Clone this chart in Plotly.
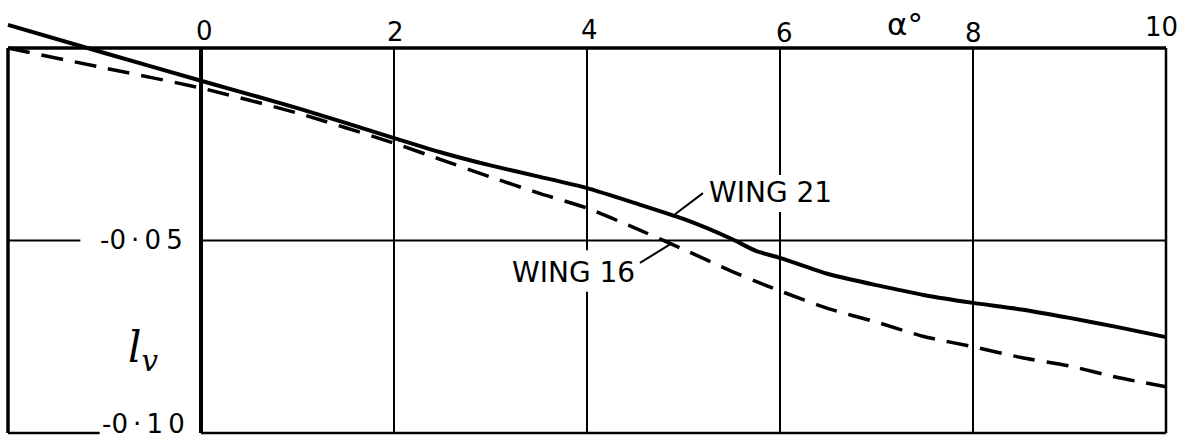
import plotly.graph_objects as go

# Angle of attack (degrees) and rolling-moment derivative l_v for two wings
alpha = [-2, -1, 0, 1, 2, 2.5, 3, 3.5, 4, 4.5, 5, 5.5, 5.75, 6, 6.5, 7, 7.5, 8, 8.5, 9, 9.5, 10]
lv_wing21 = [0.0060, -0.0013, -0.0085, -0.0156, -0.0234, -0.0272, -0.0305, -0.0334, -0.0364,
             -0.0403, -0.0444, -0.0496, -0.0527, -0.0545, -0.0587, -0.0616, -0.0642, -0.0662,
             -0.0679, -0.0701, -0.0725, -0.0751]
lv_wing16 = [0.0000, -0.0052, -0.0104, -0.0169, -0.0247, -0.0291, -0.0335, -0.0377, -0.0416,
             -0.0468, -0.0523, -0.0580, -0.0606, -0.0631, -0.0677, -0.0712, -0.0750, -0.0776,
             -0.0804, -0.0826, -0.0856, -0.0880]

x_ticks = [0, 2, 4, 6, 8, 10]
x_tick_text = ["0", "2", "4", "6", "8", "10"]
x_min, x_max = -2, 10
y_min, y_max = -0.10, 0.0

W, H = 1185, 438
INK = "#000000"
FONT = "DejaVu Sans"

fig = go.Figure()

fig.add_trace(go.Scatter(
    x=alpha, y=lv_wing21, mode="lines", name="WING 21",
    line=dict(color=INK, width=4, shape="spline", smoothing=0.6),
    hoverinfo="skip", cliponaxis=False,
))
fig.add_trace(go.Scatter(
    x=alpha, y=lv_wing16, mode="lines", name="WING 16",
    line=dict(color=INK, width=3.5, dash="22px,12px", shape="spline", smoothing=0.6),
    hoverinfo="skip", cliponaxis=False,
))

shapes = []


def seg(x0, y0, x1, y1, w):
    shapes.append(dict(type="line", xref="x", yref="y", x0=x0, y0=y0, x1=x1, y1=y1,
                       line=dict(color=INK, width=w), layer="below"))


# frame
seg(x_min, y_max, x_max, y_max, 3.5)
seg(x_min, y_min, x_min, y_max, 3.5)
seg(x_max, y_min, x_max, y_max, 2.5)
seg(x_min, y_min, -1.05, y_min, 2.5)
seg(0, y_min, x_max, y_min, 2.5)

# horizontal grid line at -0.05 (broken around its label)
seg(x_min, -0.05, -1.25, -0.05, 2)
seg(0, -0.05, x_max, -0.05, 2)

# vertical grid lines
seg(0, y_min, 0, y_max, 4)
seg(2, y_min, 2, y_max, 2)
seg(4, y_min, 4, -0.0633, 2)
seg(4, -0.0525, 4, y_max, 2)
seg(6, y_min, 6, -0.0426, 2)
seg(6, -0.0330, 6, y_max, 2)
seg(8, y_min, 8, y_max, 2)

# leader lines for the curve labels
seg(4.912, -0.0432, 5.202, -0.0377, 2)
seg(4.549, -0.0558, 4.881, -0.0507, 2)

annotations = []


def py(px):
    return 1 - px / H


tick_dx = {0: 3, 2: 1, 4: 2, 6: 4, 8: 0, 10: -5}
tick_py = {0: 31, 2: 32, 4: 30, 6: 33, 8: 33, 10: 27}
for v, t in zip(x_ticks, x_tick_text):
    annotations.append(dict(x=v, y=py(tick_py[v]), xref="x", yref="paper", text=t,
                            showarrow=False, xshift=tick_dx[v], xanchor="center",
                            yanchor="middle", font=dict(family=FONT, size=26, color=INK)))

annotations.append(dict(x=7.3, y=py(24), xref="x", yref="paper", text="α°",
                        showarrow=False, xanchor="center", yanchor="middle",
                        font=dict(family=FONT, size=31, color=INK)))

annotations.append(dict(x=-0.17, y=-0.05, xref="x", yref="y", text="-0\u2009·\u20090\u20095",
                        showarrow=False, xanchor="right", yanchor="middle", yshift=1,
                        font=dict(family=FONT, size=26, color=INK)))
annotations.append(dict(x=-0.15, y=0, xref="x", yref="paper", text="-0\u2009·\u20091\u20090",
                        showarrow=False, xanchor="right", yanchor="bottom", yshift=-3,
                        font=dict(family=FONT, size=26, color=INK)))

annotations.append(dict(x=-0.6, y=py(350), xref="x", yref="paper",
                        text="<i>l</i><sub><i>v</i></sub>",
                        showarrow=False, xanchor="center", yanchor="middle",
                        font=dict(family="DejaVu Serif", size=42, color=INK)))

annotations.append(dict(x=5.24, y=py(192), xref="x", yref="paper", text="WING 21",
                        showarrow=False, xanchor="left", yanchor="middle",
                        font=dict(family=FONT, size=28, color=INK)))
annotations.append(dict(x=4.52, y=py(272), xref="x", yref="paper", text="WING 16",
                        showarrow=False, xanchor="right", yanchor="middle",
                        font=dict(family=FONT, size=28, color=INK)))

# axis ranges chosen so the frame sits where the drawing needs it
px_per_x = 96.5
px_per_y = 3850
x_range = [x_min - 8 / px_per_x, x_max + 19 / px_per_x]
y_range = [y_min - 5 / px_per_y, y_max + 48 / px_per_y]

fig.update_layout(
    width=W, height=H,
    margin=dict(l=0, r=0, t=0, b=0),
    paper_bgcolor="white", plot_bgcolor="white",
    showlegend=False,
    xaxis=dict(range=x_range, visible=False, fixedrange=True),
    yaxis=dict(range=y_range, visible=False, fixedrange=True),
    shapes=shapes,
    annotations=annotations,
)

fig.write_html("out.html")
